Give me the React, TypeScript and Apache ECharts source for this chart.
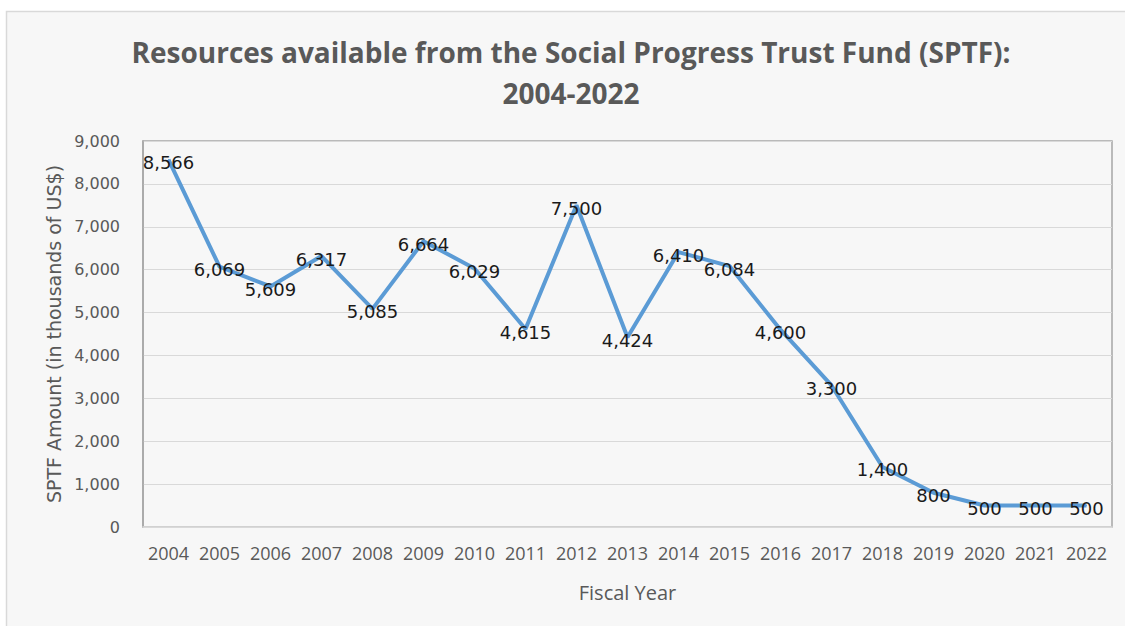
import React, { useEffect, useRef } from "react";
import * as echarts from "echarts";

const titleLines = [
  "Resources available from the Social Progress Trust Fund (SPTF):",
  "2004-2022",
];
const years = [
  "2004", "2005", "2006", "2007", "2008", "2009", "2010", "2011", "2012", "2013",
  "2014", "2015", "2016", "2017", "2018", "2019", "2020", "2021", "2022",
];
const amounts = [
  8566, 6069, 5609, 6317, 5085, 6664, 6029, 4615, 7500, 4424,
  6410, 6084, 4600, 3300, 1400, 800, 500, 500, 500,
];
const yAxisName = "SPTF Amount (in thousands of US$)";
const xAxisName = "Fiscal Year";

const fmt = (v: number) => Number(v).toLocaleString("en-US");

export default function App() {
  const ref = useRef<HTMLDivElement>(null);
  useEffect(() => {
    if (!ref.current) return;
    const chart = echarts.init(ref.current, undefined, { renderer: "svg" });
    chart.setOption({
      animation: false,
      backgroundColor: "#ffffff",
      graphic: [
        {
          type: "rect",
          z: -10,
          silent: true,
          shape: { x: 6.5, y: 11.5, width: 1140, height: 640 },
          style: { fill: "#f7f7f7", stroke: "#d9d9d9", lineWidth: 1.5 },
        },
        {
          type: "text",
          x: 571,
          y: 52,
          style: {
            text: titleLines[0],
            fill: "#595959",
            font: "bold 28px 'Open Sans', sans-serif",
            textAlign: "center",
            textVerticalAlign: "middle",
          },
        },
        {
          type: "text",
          x: 571,
          y: 93,
          style: {
            text: titleLines[1],
            fill: "#595959",
            font: "bold 28px 'Open Sans', sans-serif",
            textAlign: "center",
            textVerticalAlign: "middle",
          },
        },
      ],
      grid: {
        left: 143,
        right: 13,
        top: 141,
        bottom: 99,
        show: true,
        borderColor: "#a6a6a6",
        borderWidth: 1.5,
        backgroundColor: "transparent",
      },
      xAxis: {
        type: "category",
        data: years,
        boundaryGap: true,
        name: xAxisName,
        nameLocation: "middle",
        nameGap: 55,
        nameTextStyle: { color: "#595959", fontFamily: "Open Sans", fontSize: 20 },
        axisLine: { show: true, lineStyle: { color: "#d9d9d9", width: 1.5 } },
        axisTick: { show: false },
        axisLabel: {
          color: "#595959",
          fontFamily: "Open Sans",
          fontSize: 18,
          margin: 17,
          interval: 0,
        },
      },
      yAxis: {
        type: "value",
        min: 0,
        max: 9000,
        interval: 1000,
        name: yAxisName,
        nameLocation: "middle",
        nameGap: 80,
        nameTextStyle: { color: "#595959", fontFamily: "DejaVu Sans", fontSize: 19 },
        axisLine: { show: true, lineStyle: { color: "#a6a6a6", width: 1.5 } },
        axisTick: { show: false },
        splitLine: { lineStyle: { color: "#d9d9d9", width: 1.2 } },
        axisLabel: {
          color: "#595959",
          fontFamily: "DejaVu Sans",
          fontSize: 16,
          margin: 23,
          formatter: (v: number) => fmt(v),
        },
      },
      series: [
        {
          type: "line",
          data: amounts,
          showSymbol: true,
          symbol: "circle",
          symbolSize: 1,
          lineStyle: { color: "#5b9bd5", width: 4 },
          itemStyle: { color: "#5b9bd5" },
          label: {
            show: true,
            position: "inside",
            offset: [0, 3],
            color: "#1a1a1a",
            fontFamily: "DejaVu Sans",
            fontSize: 18,
            formatter: (p: any) => fmt(p.value),
          },
        },
      ],
    });
    return () => chart.dispose();
  }, []);
  return (
    <div
      ref={ref}
      style={{ position: "fixed", left: 0, top: 0, width: 1125, height: 626 }}
    />
  );
}
